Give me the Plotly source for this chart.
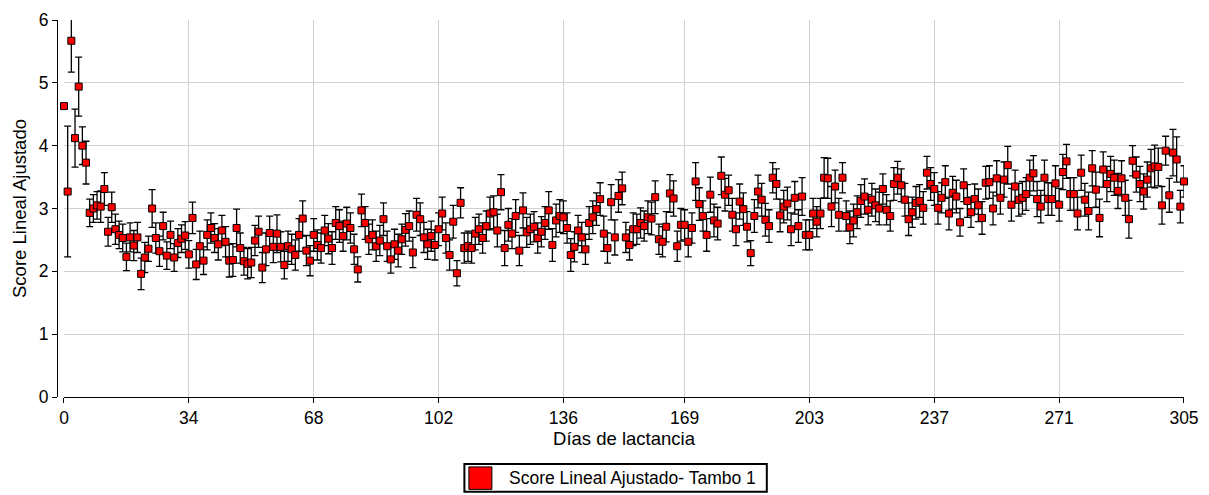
import plotly.graph_objects as go

days = list(range(0, 306))

values = [
    4.63, 3.27, 5.67, 4.12, 4.94, 4.00, 3.73, 2.93, 3.00, 3.05,
    3.03, 3.31, 2.63, 3.02, 2.67, 2.58, 2.53, 2.23, 2.54, 2.41,
    2.54, 1.96, 2.22, 2.36, 3.00, 2.53, 2.32, 2.72, 2.25, 2.58,
    2.22, 2.45, 2.52, 2.57, 2.27, 2.85, 2.11, 2.40, 2.17, 2.58,
    2.69, 2.53, 2.43, 2.65, 2.47, 2.17, 2.18, 2.69, 2.37, 2.16,
    2.12, 2.14, 2.49, 2.63, 2.06, 2.35, 2.61, 2.39, 2.60, 2.39,
    2.10, 2.40, 2.35, 2.26, 2.58, 2.84, 2.33, 2.17, 2.58, 2.42,
    2.37, 2.65, 2.52, 2.37, 2.77, 2.72, 2.56, 2.76, 2.69, 2.35,
    2.03, 2.97, 2.77, 2.51, 2.58, 2.40, 2.49, 2.83, 2.40, 2.19,
    2.43, 2.33, 2.51, 2.66, 2.72, 2.30, 2.90, 2.83, 2.54, 2.43,
    2.56, 2.42, 2.67, 2.92, 2.53, 2.26, 2.79, 1.97, 3.09, 2.37,
    2.40, 2.37, 2.60, 2.67, 2.53, 2.72, 2.92, 2.94, 2.65, 3.26,
    2.37, 2.74, 2.60, 2.88, 2.33, 2.97, 2.62, 2.67, 2.71, 2.53,
    2.63, 2.77, 2.97, 2.42, 2.81, 2.88, 2.86, 2.69, 2.26, 2.39,
    2.65, 2.54, 2.35, 2.77, 2.86, 2.99, 3.15, 2.60, 2.37, 3.10,
    2.54, 3.20, 3.32, 2.54, 2.42, 2.67, 2.67, 2.77, 2.72, 2.86,
    2.84, 3.18, 2.51, 2.47, 2.71, 3.24, 3.16, 2.40, 2.74, 2.74,
    2.47, 2.69, 3.43, 3.07, 2.88, 2.58, 3.22, 2.81, 2.76, 3.52,
    3.22, 3.29, 2.90, 2.67, 3.11, 2.99, 2.71, 2.29, 2.88, 3.27,
    3.14, 2.82, 2.72, 3.49, 3.39, 2.89, 3.03, 3.08, 2.67, 3.17,
    2.72, 3.19, 2.58, 2.58, 2.92, 2.79, 2.92, 3.49, 3.48, 3.03,
    3.35, 2.90, 3.49, 2.88, 2.70, 2.81, 2.94, 3.12, 3.19, 2.98,
    3.14, 3.05, 3.00, 3.31, 2.98, 2.88, 3.39, 3.49, 3.37, 3.14,
    2.83, 2.94, 3.09, 3.12, 3.01, 3.57, 3.39, 3.31, 3.01, 3.17,
    3.42, 2.92, 3.25, 3.19, 2.78, 3.37, 3.12, 2.94, 3.15, 3.05,
    2.85, 3.41, 3.42, 3.00, 3.48, 3.17, 3.46, 3.69, 3.06, 3.35,
    3.14, 3.17, 3.23, 3.49, 3.56, 3.15, 3.03, 3.49, 3.15, 3.15,
    3.40, 3.06, 3.58, 3.75, 3.23, 3.23, 2.92, 3.57, 3.14, 2.96,
    3.64, 3.30, 2.85, 3.62, 3.39, 3.55, 3.49, 3.28, 3.48, 3.17,
    2.83, 3.76, 3.54, 3.39, 3.27, 3.46, 3.64, 3.67, 3.66, 3.05,
    3.92, 3.21, 3.89, 3.78, 3.03, 3.43,
]

errors = [
    0.00, 1.04, 0.50, 0.46, 0.47, 0.30, 0.34, 0.22, 0.22, 0.22,
    0.25, 0.26, 0.23, 0.24, 0.24, 0.22, 0.22, 0.22, 0.23, 0.24,
    0.24, 0.25, 0.24, 0.20, 0.30, 0.24, 0.24, 0.22, 0.22, 0.22,
    0.22, 0.23, 0.22, 0.22, 0.22, 0.25, 0.24, 0.24, 0.22, 0.24,
    0.24, 0.23, 0.25, 0.24, 0.24, 0.26, 0.26, 0.30, 0.24, 0.22,
    0.24, 0.24, 0.24, 0.25, 0.24, 0.26, 0.27, 0.25, 0.30, 0.24,
    0.22, 0.24, 0.24, 0.24, 0.26, 0.28, 0.24, 0.24, 0.26, 0.24,
    0.24, 0.24, 0.24, 0.26, 0.26, 0.26, 0.24, 0.26, 0.24, 0.24,
    0.20, 0.26, 0.26, 0.24, 0.24, 0.24, 0.24, 0.26, 0.24, 0.22,
    0.24, 0.26, 0.24, 0.26, 0.24, 0.24, 0.26, 0.26, 0.24, 0.24,
    0.24, 0.24, 0.26, 0.26, 0.24, 0.24, 0.26, 0.20, 0.24, 0.24,
    0.24, 0.24, 0.26, 0.24, 0.24, 0.24, 0.26, 0.26, 0.26, 0.28,
    0.28, 0.26, 0.24, 0.26, 0.24, 0.28, 0.24, 0.24, 0.24, 0.24,
    0.24, 0.26, 0.30, 0.26, 0.26, 0.26, 0.26, 0.24, 0.26, 0.24,
    0.24, 0.24, 0.24, 0.26, 0.26, 0.26, 0.26, 0.28, 0.24, 0.28,
    0.28, 0.26, 0.26, 0.24, 0.24, 0.26, 0.24, 0.24, 0.24, 0.26,
    0.26, 0.26, 0.24, 0.24, 0.24, 0.30, 0.28, 0.24, 0.26, 0.24,
    0.24, 0.24, 0.30, 0.26, 0.24, 0.26, 0.28, 0.26, 0.26, 0.30,
    0.26, 0.24, 0.26, 0.26, 0.28, 0.26, 0.24, 0.20, 0.26, 0.26,
    0.26, 0.26, 0.26, 0.24, 0.24, 0.26, 0.26, 0.26, 0.26, 0.26,
    0.26, 0.30, 0.24, 0.24, 0.24, 0.24, 0.24, 0.32, 0.32, 0.32,
    0.26, 0.26, 0.24, 0.24, 0.26, 0.26, 0.26, 0.26, 0.28, 0.24,
    0.26, 0.26, 0.26, 0.24, 0.24, 0.24, 0.26, 0.26, 0.26, 0.26,
    0.26, 0.24, 0.26, 0.26, 0.26, 0.26, 0.26, 0.26, 0.26, 0.24,
    0.26, 0.26, 0.26, 0.26, 0.22, 0.26, 0.26, 0.24, 0.24, 0.26,
    0.26, 0.26, 0.26, 0.26, 0.28, 0.26, 0.28, 0.30, 0.26, 0.26,
    0.26, 0.26, 0.26, 0.28, 0.28, 0.28, 0.26, 0.28, 0.26, 0.26,
    0.28, 0.26, 0.28, 0.27, 0.26, 0.26, 0.26, 0.28, 0.26, 0.30,
    0.28, 0.28, 0.30, 0.28, 0.28, 0.28, 0.28, 0.28, 0.28, 0.28,
    0.30, 0.24, 0.28, 0.28, 0.28, 0.28, 0.30, 0.34, 0.30, 0.30,
    0.23, 0.27, 0.37, 0.36, 0.26, 0.25,
]

x_ticks = [0, 34, 68, 102, 136, 169, 203, 237, 271, 305]
y_ticks = [0, 1, 2, 3, 4, 5, 6]

series_name = "Score Lineal Ajustado- Tambo 1"
x_title = "Días de lactancia"
y_title = "Score Lineal Ajustado"

FONT = "Liberation Sans, Arial, sans-serif"

W, H = 1209, 495
ML, MR, MT, MB = 57, 24.7, 20, 97.5
PW, PH = W - ML - MR, H - MT - MB


def px_x(p):
    return (p - ML) / PW


def px_y(p):
    return (H - MB - p) / PH


fig = go.Figure()
fig.add_trace(go.Scatter(
    x=days, y=values,
    mode="markers",
    name=series_name,
    showlegend=False,
    cliponaxis=False,
    marker=dict(symbol="square", size=7, color="#ff0000",
                line=dict(color="#000000", width=1)),
    error_y=dict(type="data", array=errors, visible=True,
                 color="#000000", thickness=1.3, width=3.5),
))

# legend drawn as box + swatch + text
shapes = [
    dict(type="rect", xref="paper", yref="paper",
         x0=px_x(464.5), x1=px_x(767), y0=px_y(492.5), y1=px_y(464.5),
         line=dict(color="#000000", width=2), fillcolor="white", layer="above"),
    dict(type="rect", xref="paper", yref="paper",
         x0=px_x(469), x1=px_x(492), y0=px_y(490), y1=px_y(467.5),
         line=dict(color="#000000", width=1), fillcolor="#ff0000", layer="above"),
]
annotations = [
    dict(text=series_name, xref="paper", yref="paper",
         x=px_x(507), y=px_y(479), xanchor="left", yanchor="middle",
         showarrow=False, font=dict(family=FONT, size=17.5, color="#000000")),
]

fig.update_layout(
    width=W, height=H,
    margin=dict(l=ML, r=MR, t=MT, b=MB, autoexpand=False),
    paper_bgcolor="white", plot_bgcolor="white",
    font=dict(family=FONT, size=17.5, color="#000000"),
    showlegend=False,
    shapes=shapes,
    annotations=annotations,
)
fig.update_xaxes(
    domain=[(64 - ML) / PW, 1],
    range=[0, 305], tickmode="array", tickvals=x_ticks,
    ticktext=[str(t) for t in x_ticks],
    showgrid=True, gridcolor="#d0d0d0", gridwidth=1,
    showline=True, linecolor="#000000", linewidth=1,
    ticks="outside", ticklen=5, tickcolor="#000000",
    zeroline=False,
    title=dict(text=x_title, font=dict(family=FONT, size=18.5, color="#000000"), standoff=2),
    tickfont=dict(family=FONT, size=17.5, color="#000000"),
)
fig.update_yaxes(
    anchor="free", position=0,
    range=[0, 6], tickmode="array", tickvals=y_ticks,
    showgrid=True, gridcolor="#d0d0d0", gridwidth=1,
    showline=True, linecolor="#000000", linewidth=1,
    ticks="outside", ticklen=5, tickcolor="#000000",
    zeroline=False,
    title=dict(text=y_title, font=dict(family=FONT, size=18.5, color="#000000"), standoff=6),
    tickfont=dict(family=FONT, size=17.5, color="#000000"),
)

fig.write_html("out.html")
